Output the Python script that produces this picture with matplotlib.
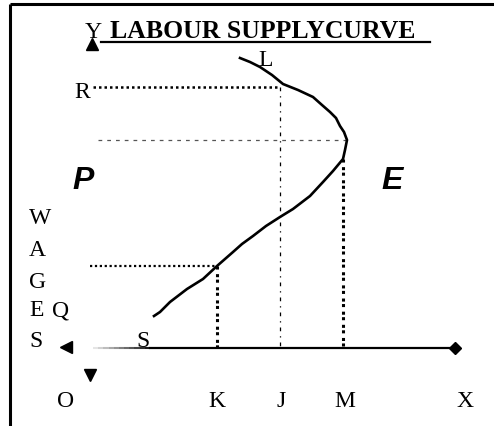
import numpy as np
import matplotlib.pyplot as plt

# diagram drawn in a pixel-like coordinate space (x right, y down)
curve_x = [240, 250, 260, 272, 283, 298, 313, 322, 330, 336, 340, 344, 347,
           345, 343, 338, 333, 323, 310, 293, 280, 266, 253, 242, 233, 217,
           203, 187, 170, 160, 154]
curve_y = [59, 63, 68, 76, 85, 91, 98, 106, 113, 119, 127, 133, 141,
           151, 160, 166, 172, 183, 197, 210, 218, 227, 237, 245, 253, 267,
           280, 290, 303, 313, 317]

wage_R, wage_top, wage_Q = 88, 141, 267
qty_K, qty_J, qty_M = 217, 280, 343
base_y = 349
axis_end = 455

tick_names = ["O", "K", "J", "M", "X"]
tick_x = [66, 217, 281, 345, 465]
wages_letters = ["W", "A", "G", "E", "S"]
wages_y = [219, 251, 283, 311, 342]

fig = plt.figure(figsize=(4.94, 4.27), dpi=100)
ax = fig.add_axes([0, 0, 1, 1])
ax.set_xlim(0, 494)
ax.set_ylim(427, 0)
ax.axis("off")

serif = "Liberation Serif"
sans = "Liberation Sans"
fs = 17

# frame (only left and top edges visible)
ax.plot([10, 10], [5, 427], color="black", lw=2.2, solid_capstyle="butt")
ax.plot([10, 494], [5, 5], color="black", lw=2.2, solid_capstyle="butt")

# title
ax.text(85, 38, "Y", fontfamily=serif, fontsize=fs, ha="left", va="baseline")
ax.text(110, 38, "LABOUR SUPPLYCURVE", fontfamily=serif, fontsize=18.5,
        fontweight="bold", ha="left", va="baseline")
ax.plot([101, 430], [43, 43], color="black", lw=1.6)
ax.plot([92], [45], marker="^", color="black", ms=8)

# guide lines
ax.plot([93, qty_J], [wage_R, wage_R], color="black", lw=1.8, ls=(0, (1, 1.2)))
ax.plot([qty_J, qty_J], [wage_R, base_y], color="black", lw=0.9,
        ls=(0, (3, 4, 1, 4)))
ax.plot([98, 347], [wage_top, wage_top], color="#555555", lw=0.9,
        ls=(0, (3, 4)))
ax.plot([qty_M, qty_M], [160, base_y], color="black", lw=2.2,
        ls=(0, (1, 1.5, 1, 0.8)))
ax.plot([90, qty_K], [wage_Q, wage_Q], color="black", lw=1.6,
        ls=(0, (1, 1.2)))
ax.plot([qty_K, qty_K], [wage_Q, base_y], color="black", lw=2.2,
        ls=(0, (1, 1.5, 1, 0.8)))

# supply curve
ax.plot(curve_x, curve_y, color="black", lw=1.9, solid_joinstyle="round")

# horizontal axis fading in from the left
fade = np.linspace(93, 150, 12)
for a, b, k in zip(fade[:-1], fade[1:], range(11)):
    ax.plot([a, b], [base_y, base_y], color="black", lw=1.5,
            alpha=0.1 + 0.08 * k, solid_capstyle="butt")
ax.plot([150, axis_end], [base_y, base_y], color="black", lw=1.6)
ax.plot([axis_end], [base_y], marker="D", color="black", ms=6.5)
ax.plot([66], [348], marker="<", color="black", ms=8)
ax.plot([90], [376], marker="v", color="black", ms=8)

# letters
for name, x in zip(tick_names, tick_x):
    ax.text(x, 402, name, fontfamily=serif, fontsize=fs, ha="center",
            va="center")
for name, y in zip(wages_letters, wages_y):
    ax.text(29, y, name, fontfamily=serif, fontsize=fs, ha="left", va="center")
ax.text(61, 311, "Q", fontfamily=serif, fontsize=fs, ha="center", va="center")
ax.text(143, 342, "S", fontfamily=serif, fontsize=fs, ha="center", va="center")
ax.text(82, 93, "R", fontfamily=serif, fontsize=fs, ha="center", va="center")
ax.text(266, 61, "L", fontfamily=serif, fontsize=fs, ha="center", va="center")
ax.text(83, 181, "P", fontfamily=sans, fontsize=23, fontweight="bold",
        fontstyle="italic", ha="center", va="center")
ax.text(392, 181, "E", fontfamily=sans, fontsize=23, fontweight="bold",
        fontstyle="italic", ha="center", va="center")

fig.savefig("out.png", dpi=100)
